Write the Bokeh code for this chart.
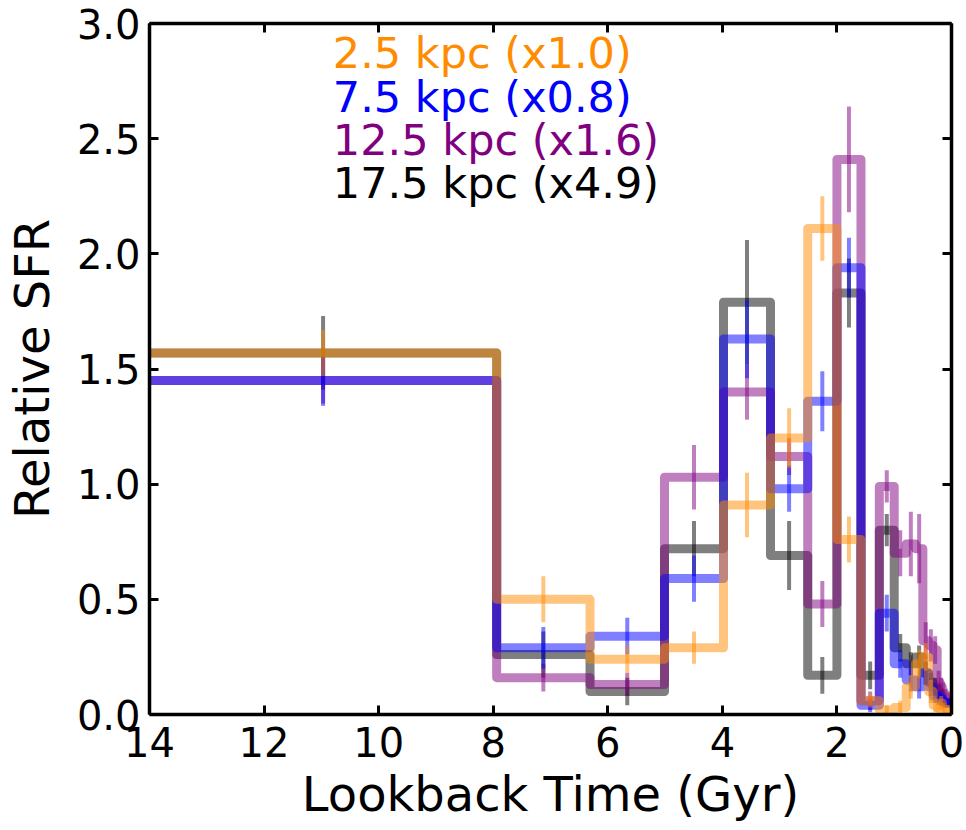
import numpy as np
from bokeh.plotting import figure
from bokeh.models import Range1d, LinearAxis, FixedTicker, Label, PrintfTickFormatter
from bokeh.embed import file_html
from bokeh.resources import INLINE

# Bin edges in lookback time (Gyr), oldest bin first
bin_edges = [14.0, 7.94, 6.31, 5.01, 3.98, 3.16, 2.51, 2.00, 1.58, 1.26, 1.00,
             0.79, 0.63, 0.50, 0.40, 0.32, 0.25, 0.20, 0.16, 0.13, 0.10, 0.0]

# Relative SFR per bin (already scaled by the factor in the label) and 1-sigma errors
sfr_2p5 = [1.57, 0.50, 0.24, 0.29, 0.91, 1.20, 2.11, 0.76, 0.06, 0.02, 0.03,
           0.12, 0.22, 0.25, 0.10, 0.04, 0.03, 0.05, 0.03, 0.02, 0.02]
err_2p5 = [0.10, 0.10, 0.06, 0.07, 0.14, 0.13, 0.14, 0.10, 0.03, 0.02, 0.03,
           0.05, 0.06, 0.06, 0.05, 0.03, 0.03, 0.03, 0.02, 0.02, 0.02]

sfr_7p5 = [1.45, 0.29, 0.34, 0.59, 1.63, 0.98, 1.36, 1.94, 0.04, 0.44, 0.22,
           0.15, 0.12, 0.18, 0.12, 0.08, 0.07, 0.07, 0.06, 0.05, 0.05]
err_7p5 = [0.11, 0.09, 0.08, 0.10, 0.17, 0.10, 0.13, 0.13, 0.03, 0.08, 0.06,
           0.05, 0.05, 0.05, 0.04, 0.03, 0.03, 0.03, 0.02, 0.02, 0.02]

sfr_12p5 = [1.45, 0.16, 0.13, 1.03, 1.40, 1.12, 0.48, 2.41, 0.06, 0.99, 0.70,
            0.74, 0.72, 0.32, 0.30, 0.28, 0.14, 0.12, 0.10, 0.08, 0.07]
err_12p5 = [0.10, 0.06, 0.05, 0.14, 0.12, 0.08, 0.10, 0.23, 0.04, 0.07, 0.10,
            0.14, 0.15, 0.08, 0.07, 0.06, 0.05, 0.04, 0.04, 0.03, 0.03]

sfr_17p5 = [1.57, 0.26, 0.10, 0.72, 1.79, 0.69, 0.17, 1.83, 0.17, 0.80, 0.29,
            0.22, 0.25, 0.18, 0.14, 0.12, 0.10, 0.08, 0.06, 0.05, 0.05]
err_17p5 = [0.16, 0.10, 0.06, 0.12, 0.27, 0.15, 0.08, 0.15, 0.06, 0.07, 0.06,
            0.05, 0.05, 0.05, 0.04, 0.04, 0.03, 0.03, 0.02, 0.02, 0.02]

series_labels = ["2.5 kpc (x1.0)", "7.5 kpc (x0.8)", "12.5 kpc (x1.6)", "17.5 kpc (x4.9)"]
series_colors = ["#ff8c00", "#0000ff", "#800080", "#000000"]
series_sfr = [sfr_2p5, sfr_7p5, sfr_12p5, sfr_17p5]
series_err = [err_2p5, err_7p5, err_12p5, err_17p5]

x_ticks = [0, 2, 4, 6, 8, 10, 12, 14]
y_ticks = [0.0, 0.5, 1.0, 1.5, 2.0, 2.5, 3.0]

FONT = "DejaVu Sans"

p = figure(frame_width=802, frame_height=691,
           x_range=Range1d(14, 0), y_range=Range1d(0, 3),
           output_backend="svg", toolbar_location=None,
           min_border_left=148, min_border_right=16,
           min_border_top=23, min_border_bottom=116,
           background_fill_color="white", border_fill_color="white")
p.grid.visible = False
p.outline_line_color = None


def style_axis(ax, labels=True):
    ax.axis_line_color = "black"
    ax.axis_line_width = 3.5
    ax.major_tick_line_color = "black"
    ax.major_tick_line_width = 3
    ax.major_tick_in = 9
    ax.major_tick_out = 0
    ax.minor_tick_line_color = None
    ax.major_label_text_font = FONT
    if labels:
        ax.major_label_text_color = "black"
        ax.major_label_text_font_size = "40px"
    else:
        # mirrored ticks only, no numbers
        ax.major_label_text_color = None
        ax.major_label_text_font_size = "1px"
        ax.major_label_standoff = 0


style_axis(p.xaxis[0])
style_axis(p.yaxis[0])
p.xaxis[0].ticker = FixedTicker(ticks=x_ticks)
p.yaxis[0].ticker = FixedTicker(ticks=y_ticks)
p.yaxis[0].formatter = PrintfTickFormatter(format="%.1f")
p.xaxis[0].major_label_standoff = 12
p.yaxis[0].major_label_standoff = 9
p.xaxis[0].axis_label = "Lookback Time (Gyr)"
p.yaxis[0].axis_label = "Relative SFR"
for ax in (p.xaxis[0], p.yaxis[0]):
    ax.axis_label_text_font = FONT
    ax.axis_label_text_font_size = "48px"
    ax.axis_label_text_font_style = "normal"
    ax.axis_label_text_color = "black"
p.xaxis[0].axis_label_standoff = 6
p.yaxis[0].axis_label_standoff = 14

top_axis = LinearAxis(ticker=FixedTicker(ticks=x_ticks))
right_axis = LinearAxis(ticker=FixedTicker(ticks=y_ticks))
style_axis(top_axis, labels=False)
style_axis(right_axis, labels=False)
p.add_layout(top_axis, "above")
p.add_layout(right_axis, "right")

edges = np.array(bin_edges)
centers = 0.5 * (edges[:-1] + edges[1:])

# Draw back to front: outermost radius first, innermost last
for idx in [3, 2, 1, 0]:
    vals = np.array(series_sfr[idx])
    errs = np.array(series_err[idx])
    color = series_colors[idx]
    xs = np.repeat(edges, 2)[1:-1]
    ys = np.repeat(vals, 2)
    p.line(xs, ys, line_color=color, line_alpha=0.5, line_width=9,
           line_join="round", line_cap="butt")
    p.segment(x0=centers, y0=vals - errs, x1=centers, y1=vals + errs,
              line_color=color, line_alpha=0.5, line_width=4)

# Colored text key in the upper part of the panel
key_x = 10.8
key_top = 2.87
key_step = 0.187
for i, (txt, col) in enumerate(zip(series_labels, series_colors)):
    p.add_layout(Label(x=key_x, y=key_top - i * key_step, text=txt,
                       text_color=col, text_font=FONT, text_font_size="43px",
                       text_baseline="middle", text_align="left"))

open("out.html", "w").write(file_html(p, INLINE))
